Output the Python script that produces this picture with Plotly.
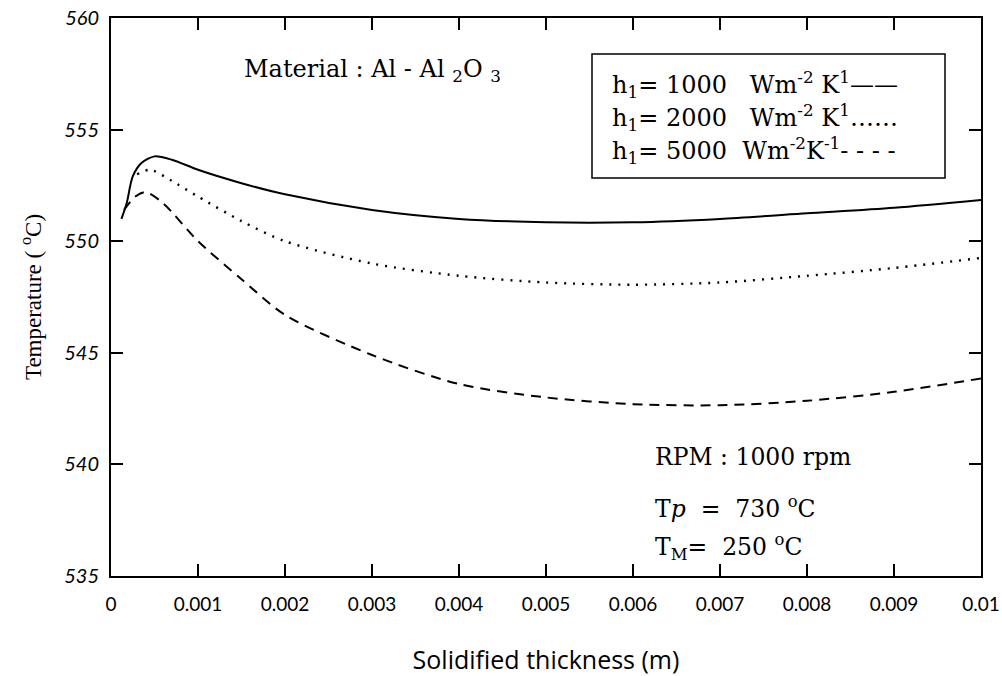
import plotly.graph_objects as go

# ---- data ----
x_h1000 = [0.00012, 0.00018, 0.00025, 0.00035, 0.0005, 0.0007, 0.001, 0.0015, 0.002,
           0.003, 0.004, 0.005, 0.006, 0.007, 0.008, 0.009, 0.01]
y_h1000 = [551.0, 551.7, 552.9, 553.5, 553.8, 553.65, 553.2, 552.6, 552.1,
           551.4, 551.0, 550.85, 550.85, 551.0, 551.25, 551.5, 551.85]

x_h2000 = [0.0003, 0.00045, 0.0007, 0.001, 0.0015, 0.002, 0.003, 0.004, 0.005,
           0.006, 0.007, 0.008, 0.009, 0.01]
y_h2000 = [553.0, 553.2, 552.7, 552.0, 550.9, 550.0, 549.0, 548.45, 548.15,
           548.05, 548.15, 548.45, 548.8, 549.25]

x_h5000 = [0.00015, 0.00028, 0.0004, 0.0006, 0.001, 0.0015, 0.002, 0.003, 0.004,
           0.005, 0.006, 0.007, 0.008, 0.009, 0.01]
y_h5000 = [551.4, 552.0, 552.2, 551.7, 550.0, 548.3, 546.7, 544.9, 543.6,
           543.0, 542.7, 542.65, 542.85, 543.25, 543.85]

x_tickvals = [0, 0.001, 0.002, 0.003, 0.004, 0.005, 0.006, 0.007, 0.008, 0.009, 0.01]
x_ticktext = ["0", "0.001", "0.002", "0.003", "0.004", "0.005", "0.006", "0.007", "0.008", "0.009", "0.01"]
y_tickvals = [535, 540, 545, 550, 555, 560]

legend_labels = [
    "h<sub>1</sub>= 1000   Wm<sup>-2</sup> K<sup>1</sup>",
    "h<sub>1</sub>= 2000   Wm<sup>-2</sup> K<sup>1</sup>",
    "h<sub>1</sub>= 5000  Wm<sup>-2</sup>K<sup>-1</sup>",
]
legend_samples = ["\u2014\u2014", "\u2026\u2026", "- - - -"]

SERIF = "Liberation Serif"
WSERIF = "DejaVu Serif"
SANS = "Lato"

# plot-area geometry in pixels (used only to place free text / box)
L, R, T, B = 111, 981, 18, 576
def px(xp):
    return (xp - L) / (R - L)
def py(yp):
    return 1 - (yp - T) / (B - T)

fig = go.Figure()
fig.add_trace(go.Scatter(x=x_h1000, y=y_h1000, mode="lines", name="h1=1000",
                         line=dict(color="black", width=2, shape="spline", smoothing=0.8)))
fig.add_trace(go.Scatter(x=x_h2000, y=y_h2000, mode="lines", name="h1=2000",
                         line=dict(color="black", width=2.4, dash="2px,7px", shape="spline", smoothing=0.8)))
fig.add_trace(go.Scatter(x=x_h5000, y=y_h5000, mode="lines", name="h1=5000",
                         line=dict(color="black", width=2, dash="10px,7px", shape="spline", smoothing=0.8)))

fig.update_layout(
    width=1002, height=676,
    margin=dict(l=L, r=1002 - R, t=T, b=676 - B, autoexpand=False),
    paper_bgcolor="white", plot_bgcolor="white",
    showlegend=False,
    font=dict(family=SERIF, color="black"),
)

fig.update_xaxes(
    range=[0, 0.01], tickvals=x_tickvals, ticktext=x_ticktext,
    showgrid=False, zeroline=False, automargin=False,
    showline=True, linecolor="black", linewidth=2, mirror="ticks",
    ticks="inside", ticklen=12, tickwidth=1.5, tickcolor="black",
    tickfont=dict(family=SANS, size=19, color="black"),
    ticklabelstandoff=10,
    title=dict(text="Solidified thickness (m)", font=dict(family="Open Sans", size=25), standoff=38),
)
fig.update_yaxes(
    range=[535, 560], tickvals=y_tickvals,
    showgrid=False, zeroline=False, automargin=False,
    showline=True, linecolor="black", linewidth=2, mirror="ticks",
    ticks="inside", ticklen=12, tickwidth=1.5, tickcolor="black",
    tickfont=dict(family=SANS, size=20, color="black", style="italic"),
    ticklabelstandoff=6,
    title=dict(text="Temperature ( <sup>o</sup>C)", font=dict(family=SERIF, size=23), standoff=16),
)

# Material label
fig.add_annotation(xref="paper", yref="paper", x=px(372), y=py(70),
                   text="Material : Al - Al <sub>2</sub>O <sub>3</sub>", showarrow=False,
                   font=dict(family=WSERIF, size=24, color="black"), xanchor="center", yanchor="middle")

# Legend box
fig.add_shape(type="rect", xref="paper", yref="paper",
              x0=px(592), x1=px(945), y0=py(178), y1=py(54),
              line=dict(color="black", width=1.5), fillcolor="white", layer="below")
for lab, samp, yc in zip(legend_labels, legend_samples, [84, 117, 150]):
    fig.add_annotation(xref="paper", yref="paper", x=px(610), y=py(yc),
                       text=lab + samp, showarrow=False, xanchor="left", yanchor="middle",
                       font=dict(family=WSERIF, size=24, color="black"))

# Conditions text
cond = [("RPM : 1000 rpm", 457), ("T<i>p</i>  =  730 <sup>o</sup>C", 507), ("T<sub>M</sub>=  250 <sup>o</sup>C", 547)]
for txt, yc in cond:
    fig.add_annotation(xref="paper", yref="paper", x=px(653), y=py(yc),
                       text=txt, showarrow=False, xanchor="left", yanchor="middle",
                       font=dict(family=WSERIF, size=23.5, color="black"))

fig.write_html("out.html")
